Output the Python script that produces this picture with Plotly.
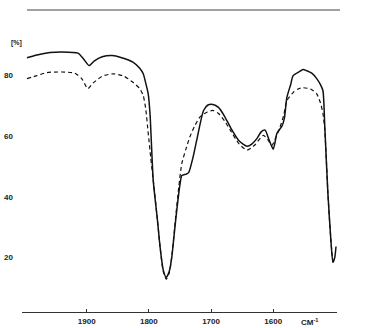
import plotly.graph_objects as go

# Wavenumbers (cm^-1) and transmission values (%)
solid_wn = [1996, 1980, 1959, 1940, 1914, 1905, 1896, 1888, 1875, 1859, 1845, 1825, 1815, 1809,
            1805, 1801, 1798, 1793, 1786, 1782, 1777, 1772, 1767, 1763, 1757, 1750, 1747, 1740,
            1736, 1729, 1723, 1712, 1705, 1697, 1688, 1678, 1669, 1655, 1642, 1634, 1626, 1619,
            1613, 1607, 1600, 1597, 1594, 1586, 1582, 1578, 1572, 1568, 1558, 1552, 1546, 1538,
            1530, 1524, 1520, 1517, 1512, 1507, 1504, 1501, 1499]
solid_t = [85.9, 86.8, 87.6, 87.8, 87.4, 85.5, 83.3, 84.8, 86.2, 86.6, 86.0, 84.4, 82.5, 80.6,
           77.5, 74.0, 67.0, 45.6, 32.0, 23.6, 16.0, 13.4, 15.5, 20.3, 32.0, 44.0, 47.0, 47.5,
           48.0, 53.0, 58.7, 68.5, 70.3, 70.5, 69.5, 66.5, 63.0, 58.5, 56.7, 57.5, 59.3, 61.5,
           62.0, 59.0, 55.7, 58.0, 61.0, 63.3, 66.0, 72.8, 77.0, 80.0, 81.3, 82.0, 81.6, 80.8,
           79.0, 77.0, 75.0, 63.0, 41.0, 25.0, 18.4, 20.0, 23.6]

dashed_wn = [1996, 1980, 1964, 1940, 1919, 1908, 1898, 1890, 1875, 1857, 1840, 1825, 1815, 1809,
             1805, 1801, 1797, 1793, 1786, 1782, 1777, 1772, 1767, 1763, 1757, 1752, 1747, 1740,
             1734, 1726, 1718, 1706, 1697, 1688, 1678, 1669, 1655, 1642, 1630, 1616, 1609, 1602,
             1595, 1589, 1583, 1578, 1568, 1560, 1552, 1540, 1530, 1524, 1520, 1517, 1512, 1507,
             1504]
dashed_t = [79.0, 80.0, 81.0, 81.2, 80.8, 79.0, 75.7, 77.5, 79.8, 80.6, 79.8, 77.7, 75.8, 73.4,
            69.0, 61.0, 53.0, 45.6, 32.0, 23.6, 15.5, 12.8, 15.0, 20.5, 33.0, 43.0, 51.0, 56.0,
            59.8, 63.5, 66.3, 68.0, 68.5, 67.5, 65.0, 62.0, 57.5, 55.4, 57.0, 60.3, 59.0, 57.0,
            60.0, 63.0, 67.0, 71.8, 74.4, 75.6, 76.0, 75.6, 74.0, 71.0, 67.5, 62.0, 41.0, 25.0,
            18.4]

x_ticks = [1900, 1800, 1700, 1600]
y_ticks = [20, 40, 60, 80]

fig = go.Figure()
fig.add_trace(go.Scatter(x=dashed_wn, y=dashed_t, mode="lines",
                         line=dict(color="#111", width=1.2, dash="4px,3px", shape="spline", smoothing=0.6),
                         showlegend=False, hoverinfo="skip"))
fig.add_trace(go.Scatter(x=solid_wn, y=solid_t, mode="lines",
                         line=dict(color="#111", width=1.5, shape="spline", smoothing=0.6),
                         showlegend=False, hoverinfo="skip"))

font = dict(family="Liberation Sans", size=8, color="#222", weight="bold")

fig.update_layout(
    width=374, height=328,
    margin=dict(l=22, r=37, t=10, b=16, autoexpand=False),
    paper_bgcolor="white", plot_bgcolor="white",
    xaxis=dict(range=[2004, 1497.4], tickvals=x_ticks, ticktext=[str(v) for v in x_ticks],
               ticks="inside", ticklen=3, tickcolor="#333", showgrid=False, zeroline=False,
               showline=True, linecolor="#333", linewidth=1.2, tickfont=font,
               ticklabelstandoff=1, automargin=False),
    yaxis=dict(range=[2.0, 101.65], tickvals=y_ticks, ticktext=[str(v) for v in y_ticks],
               ticks="", showgrid=False, zeroline=False, showline=False, tickfont=font,
               ticklabelstandoff=8, automargin=False),
    shapes=[dict(type="line", xref="paper", yref="paper", x0=0.016, x1=1.0095, y0=1, y1=1,
                 line=dict(color="#444", width=1.2))],
    annotations=[
        dict(text="[%]", xref="paper", yref="paper", x=-0.04, y=0.91, showarrow=False,
             font=dict(family="Liberation Sans", size=7, color="#222", weight="bold")),
        dict(text="CM<sup>-1</sup>", xref="x", yref="paper", x=1541, y=-0.033, yanchor="middle",
             showarrow=False, font=font),
    ],
)

fig.write_html("out.html")
